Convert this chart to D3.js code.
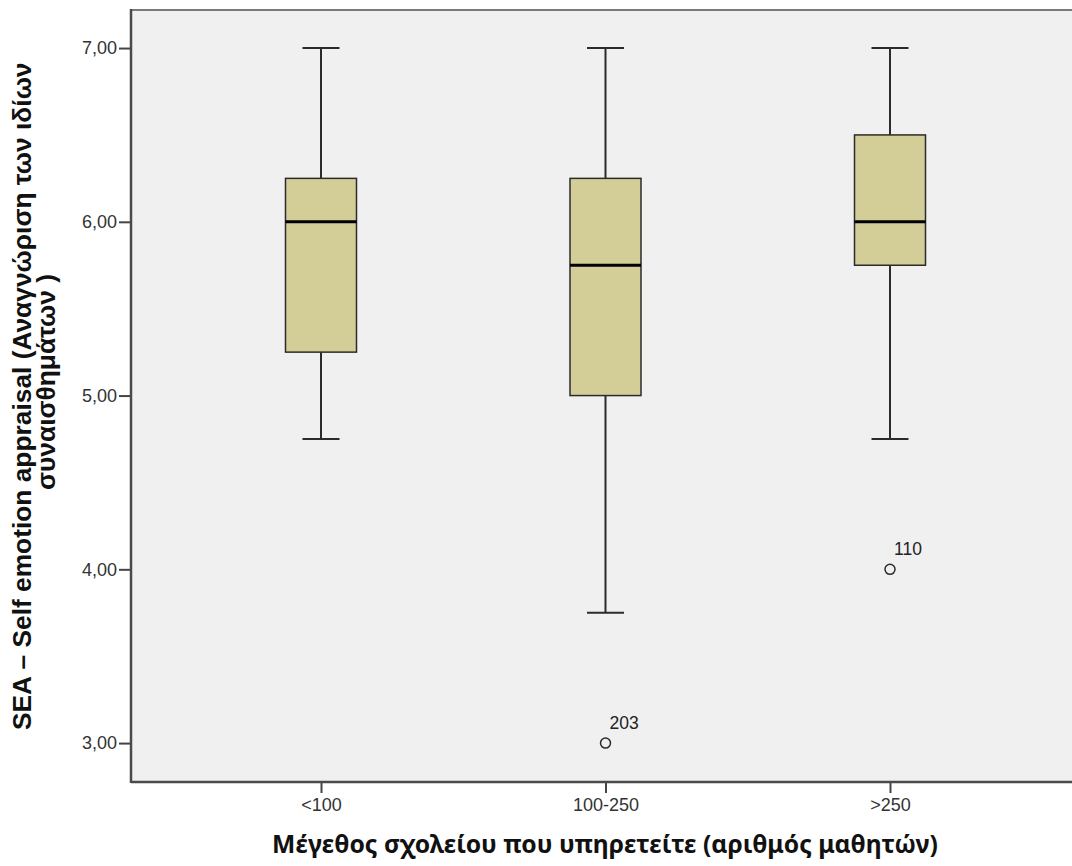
<!DOCTYPE html>
<html><head><meta charset="utf-8">
<script src="https://cdn.jsdelivr.net/npm/d3@7"></script>
<style>
html,body{margin:0;padding:0;background:#fff;overflow:hidden}
svg{display:block}
</style></head>
<body>
<svg id="chart" width="1072" height="866"></svg>
<script>
const categories = ["<100", "100-250", ">250"];
const whiskerLow = [4.75, 3.75, 4.75];
const q1 = [5.25, 5.00, 5.75];
const median = [6.00, 5.75, 6.00];
const q3 = [6.25, 6.25, 6.50];
const whiskerHigh = [7.00, 7.00, 7.00];
const outlierCategory = ["100-250", ">250"];
const outlierValue = [3.00, 4.00];
const outlierLabel = ["203", "110"];
const yTicks = [3, 4, 5, 6, 7];
const xTitle = "Μέγεθος σχολείου που υπηρετείτε (αριθμός μαθητών)";
const yTitle1 = "SEA – Self emotion appraisal (Αναγνώριση των ιδίων";
const yTitle2 = "συναισθημάτων )";

const L = 131, R = 1081, T = 10, B = 782;
const svg = d3.select("#chart");

const y = d3.scaleLinear().domain([2.776, 7.219]).range([B, T]);
const x = d3.scalePoint().domain(categories).range([321, 890]);

svg.append("rect").attr("x", L).attr("y", T).attr("width", R - L).attr("height", B - T)
  .attr("fill", "#f0f0f0");

const boxW = 71, capW = 37;
const g = svg.append("g");
categories.forEach((c, i) => {
  const cx = x(c);
  g.append("line").attr("x1", cx).attr("x2", cx).attr("y1", y(q3[i])).attr("y2", y(whiskerHigh[i]))
    .attr("stroke", "#2b2b2b").attr("stroke-width", 2);
  g.append("line").attr("x1", cx).attr("x2", cx).attr("y1", y(q1[i])).attr("y2", y(whiskerLow[i]))
    .attr("stroke", "#2b2b2b").attr("stroke-width", 2);
  g.append("line").attr("x1", cx - capW / 2).attr("x2", cx + capW / 2).attr("y1", y(whiskerHigh[i])).attr("y2", y(whiskerHigh[i]))
    .attr("stroke", "#2b2b2b").attr("stroke-width", 2);
  g.append("line").attr("x1", cx - capW / 2).attr("x2", cx + capW / 2).attr("y1", y(whiskerLow[i])).attr("y2", y(whiskerLow[i]))
    .attr("stroke", "#2b2b2b").attr("stroke-width", 2);
  g.append("rect").attr("x", cx - boxW / 2).attr("y", y(q3[i])).attr("width", boxW).attr("height", y(q1[i]) - y(q3[i]))
    .attr("fill", "#d3ce97").attr("stroke", "#2b2b2b").attr("stroke-width", 1.5);
  g.append("line").attr("x1", cx - boxW / 2).attr("x2", cx + boxW / 2).attr("y1", y(median[i])).attr("y2", y(median[i]))
    .attr("stroke", "#000").attr("stroke-width", 3);
});

outlierCategory.forEach((c, i) => {
  const cx = x(c), cy = y(outlierValue[i]);
  g.append("circle").attr("cx", cx).attr("cy", cy).attr("r", 5)
    .attr("fill", "none").attr("stroke", "#2b2b2b").attr("stroke-width", 1.5);
  g.append("text").attr("x", cx + 4).attr("y", cy - 14)
    .attr("font-family", "Liberation Sans, Arial, sans-serif").attr("font-size", 17.5)
    .attr("fill", "#222").text(outlierLabel[i]);
});

svg.append("line").attr("x1", L).attr("x2", R).attr("y1", T).attr("y2", T).attr("stroke", "#7a7a7a").attr("stroke-width", 2);
svg.append("line").attr("x1", R).attr("x2", R).attr("y1", T).attr("y2", B).attr("stroke", "#555").attr("stroke-width", 2);

const yAxis = svg.append("g").attr("transform", `translate(${L},0)`)
  .call(d3.axisLeft(y).tickValues(yTicks).tickSize(12).tickPadding(2).tickFormat(d => d3.format(".2f")(d).replace(".", ",")));
const xAxis = svg.append("g").attr("transform", `translate(0,${B})`)
  .call(d3.axisBottom(x).tickSize(11).tickPadding(5));
[yAxis, xAxis].forEach(a => {
  a.select(".domain").remove();
  a.selectAll(".tick line").attr("stroke", "#444").attr("stroke-width", 2);
  a.selectAll(".tick text").attr("font-family", "Liberation Sans, Arial, sans-serif").attr("font-size", 18).attr("fill", "#333");
});
svg.append("line").attr("x1", L).attr("x2", L).attr("y1", T - 1).attr("y2", B + 1).attr("stroke", "#4a4a4a").attr("stroke-width", 2.5);
svg.append("line").attr("x1", L).attr("x2", R).attr("y1", B).attr("y2", B).attr("stroke", "#4a4a4a").attr("stroke-width", 2.5);

function fit(t, target) {
  const len = t.node().getComputedTextLength();
  const fs = parseFloat(t.attr("font-size"));
  t.attr("font-size", fs * target / len);
}
const xt = svg.append("text").attr("x", 605).attr("y", 853).attr("text-anchor", "middle")
  .attr("font-family", "Noto Sans, Open Sans, sans-serif").attr("font-weight", "bold").attr("font-size", 20)
  .attr("fill", "#111").text(xTitle);
fit(xt, 666);

const yt1 = svg.append("text").attr("transform", "rotate(-90)").attr("x", -730).attr("y", 31)
  .attr("font-family", "Liberation Sans, Arial, sans-serif").attr("font-weight", "bold").attr("font-size", 18)
  .attr("fill", "#111").text(yTitle1);
fit(yt1, 668);
svg.append("text").attr("transform", "rotate(-90)").attr("x", -490).attr("y", 55)
  .attr("font-family", "Liberation Sans, Arial, sans-serif").attr("font-weight", "bold")
  .attr("font-size", yt1.attr("font-size"))
  .attr("fill", "#111").text(yTitle2);
</script>
</body></html>
